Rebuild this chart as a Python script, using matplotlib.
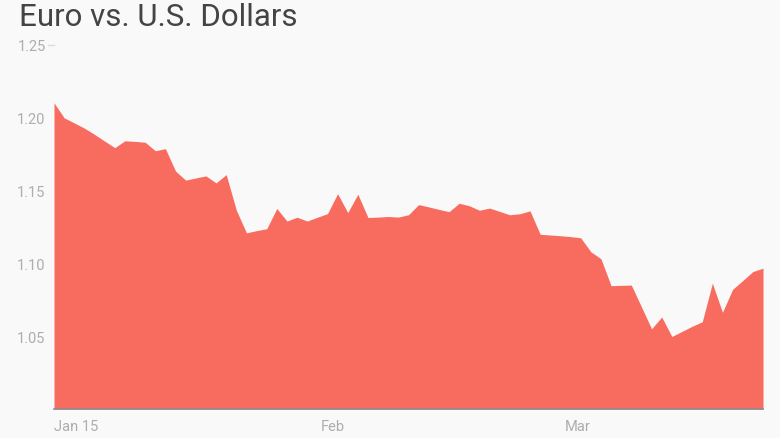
import matplotlib
matplotlib.use("Agg")
import matplotlib.pyplot as plt

plt.rcParams["font.family"] = ["Roboto", "DejaVu Sans"]

TITLE = "Euro vs. U.S. Dollars"
# EUR/USD, one value per point
EUR_USD = [1.2103, 1.2000, 1.1965, 1.1929, 1.1886, 1.1840, 1.1795, 1.1842, 1.1838, 1.1832,
           1.1774, 1.1788, 1.1634, 1.1572, 1.1587, 1.1601, 1.1553, 1.1610, 1.1366, 1.1210,
           1.1225, 1.1238, 1.1377, 1.1291, 1.1317, 1.1291, 1.1317, 1.1342, 1.1479, 1.1349,
           1.1475, 1.1315, 1.1318, 1.1322, 1.1318, 1.1334, 1.1404, 1.1388, 1.1371, 1.1355,
           1.1413, 1.1396, 1.1365, 1.1380, 1.1357, 1.1334, 1.1341, 1.1361, 1.1200, 1.1195,
           1.1190, 1.1184, 1.1176, 1.1080, 1.1032, 1.0847, 1.0849, 1.0851, 1.0701, 1.0551,
           1.0632, 1.0498, 1.0533, 1.0568, 1.0599, 1.0864, 1.0664, 1.0822, 1.0882, 1.0944,
           1.0967]
X_TICK_POS = [0, 27.5, 51.7]
X_TICK_LABELS = ["Jan 15", "Feb", "Mar"]
Y_TICKS = [1.05, 1.10, 1.15, 1.20, 1.25]

BG, FILL, LABEL_C, TITLE_C = "#f9f9f9", "#f86c5f", "#adadad", "#444444"

fig = plt.figure(figsize=(7.8, 4.39), dpi=100, facecolor=BG)
ax = fig.add_axes([54 / 780, 29 / 439, 709 / 780, 364 / 439])
ax.set_facecolor(BG)

xs = list(range(len(EUR_USD)))
ax.fill_between(xs, EUR_USD, 1.0, color=FILL, lw=0)
ax.set_xlim(0, len(EUR_USD) - 1)
ax.set_ylim(1.0, 1.25)

for s in ("top", "right", "left"):
    ax.spines[s].set_visible(False)
ax.spines["bottom"].set_color("#8c8c8c")
ax.spines["bottom"].set_linewidth(1.2)

ax.set_yticks(Y_TICKS)
ax.set_yticklabels([f"{v:.2f}" for v in Y_TICKS])
ax.tick_params(axis="y", length=0, pad=6, labelsize=10.5, labelcolor=LABEL_C)
# small tick only next to the top label
ax.plot([-0.009, 0], [1.25, 1.25], transform=ax.get_yaxis_transform(),
        color="#dddddd", lw=1, clip_on=False)

ax.set_xticks(X_TICK_POS)
ax.set_xticklabels(X_TICK_LABELS)
ax.tick_params(axis="x", length=0, pad=7, labelsize=10.5, labelcolor=LABEL_C)
ax.get_xticklabels()[0].set_ha("left")

fig.text(19 / 780, 1 - 3 / 439, TITLE, fontsize=22.5, color=TITLE_C, va="top", ha="left")

fig.savefig("out.png", dpi=100, facecolor=BG)
